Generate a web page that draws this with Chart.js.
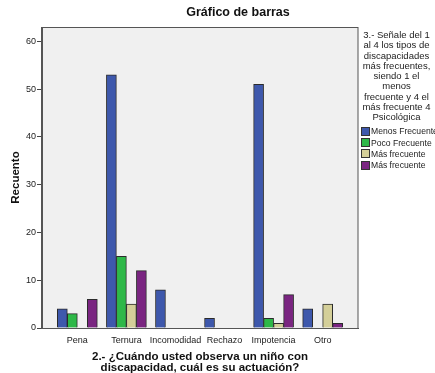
<!DOCTYPE html>
<html>
<head>
<meta charset="utf-8">
<script src="https://cdn.jsdelivr.net/npm/chart.js@4.4.0/dist/chart.umd.min.js"></script>
<style>
  html, body { margin: 0; padding: 0; background: #fff; }
  #wrap { position: relative; width: 435px; height: 373px; font-family: "Liberation Sans", Arial, sans-serif; }
  #legend { position: absolute; left: 358px; top: 30px; width: 77px; font-size: 9.5px; color: #222; }
  #legend .ttl { text-align: center; line-height: 10.3px; }
  #legend .item { display: flex; align-items: center; height: 11.3px; margin-left: 3px; white-space: nowrap; font-size: 8.6px; }
  #legend .sw { flex: 0 0 auto; width: 7px; height: 7px; border: 1px solid #333; margin-right: 1px; }
</style>
</head>
<body>
<div id="wrap">
  <canvas id="barChart" width="435" height="373"></canvas>
  <div id="legend"></div>
</div>
<script>
// Chart data
const chartTitle = 'Gráfico de barras';
const categories = ['Pena', 'Ternura', 'Incomodidad', 'Rechazo', 'Impotencia', 'Otro'];
const seriesNames = ['Menos Frecuente', 'Poco Frecuente', 'Más frecuente', 'Más frecuente'];
const menosFrecuente = [4, 53, 8, 2, 51, 4];
const pocoFrecuente = [3, 15, 0, 0, 2, 0];
const masFrecuente = [0, 5, 0, 0, 1, 5];
const masFrecuente4 = [6, 12, 0, 0, 7, 1];
const yTicks = [0, 10, 20, 30, 40, 50, 60];
const legendTitle = ['3.- Señale del 1', 'al 4 los tipos de', 'discapacidades', 'más frecuentes,', 'siendo 1 el', 'menos', 'frecuente y 4 el', 'más frecuente 4', 'Psicológica'];
const xTitle = ['2.- ¿Cuándo usted observa un niño con', 'discapacidad, cuál es su actuación?'];
const yTitle = 'Recuento';

const colors = ['#3E58AC', '#2EB848', '#D4CF99', '#7A2581'];
const FONT = '"Liberation Sans", Arial, sans-serif';

// build datasets on a linear x scale so the plot frame can have side padding
function toPoints(values) {
  return values.map((v, i) => ({ x: i, y: v === 0 ? null : v }));
}
const allSeries = [menosFrecuente, pocoFrecuente, masFrecuente, masFrecuente4];
const datasets = allSeries.map((vals, i) => ({
  label: seriesNames[i],
  data: toPoints(vals),
  backgroundColor: colors[i],
  borderColor: '#2b2b2b',
  borderWidth: 1,
  borderSkipped: 'bottom',
  barThickness: 10
}));

// plot background + frame + title
const framePlugin = {
  id: 'frame',
  beforeDraw(chart) {
    const { ctx, chartArea: a } = chart;
    ctx.save();
    ctx.fillStyle = '#F0F0F0';
    ctx.fillRect(a.left, a.top, a.right - a.left, a.bottom - a.top);
    ctx.restore();
  },
  afterDraw(chart) {
    const { ctx, chartArea: a } = chart;
    ctx.save();
    ctx.strokeStyle = '#555';
    ctx.lineWidth = 1;
    ctx.strokeRect(a.left - 0.5, a.top + 0.5, a.right - a.left + 0.5, a.bottom - a.top);
    ctx.fillStyle = '#111';
    ctx.font = 'bold 12.5px ' + FONT;
    ctx.textAlign = 'center';
    ctx.textBaseline = 'middle';
    ctx.fillText(chartTitle, 238, 13);
    ctx.restore();
  }
};

const ctx = document.getElementById('barChart').getContext('2d');
new Chart(ctx, {
  type: 'bar',
  data: { datasets: datasets },
  options: {
    responsive: false,
    animation: false,
    layout: { padding: { top: 27, right: 77, left: 0, bottom: 0 } },
    plugins: {
      legend: { display: false },
      tooltip: { enabled: false }
    },
    scales: {
      x: {
        type: 'linear',
        min: -0.72,
        max: 5.72,
        offset: false,
        grid: { display: false, drawOnChartArea: false, drawTicks: true, tickLength: 5, color: '#444' },
        border: { display: true, color: '#555' },
        ticks: {
          stepSize: 1,
          includeBounds: false,
          autoSkip: false,
          maxRotation: 0,
          color: '#222',
          padding: 2,
          font: { family: FONT, size: 9 },
          callback: (v) => (Number.isInteger(v) && categories[v] !== undefined ? categories[v] : '')
        },
        title: {
          display: true,
          text: xTitle,
          color: '#111',
          font: { family: FONT, size: 11.5, weight: 'bold', lineHeight: 0.95 },
          padding: { top: 4, bottom: 0 }
        },
        afterFit: (scale) => { scale.height = 45; }
      },
      y: {
        min: 0,
        max: 63,
        grid: { drawOnChartArea: false, drawTicks: true, tickLength: 5, color: '#444' },
        border: { display: true, color: '#555' },
        afterBuildTicks: (scale) => { scale.ticks = yTicks.map(v => ({ value: v })); },
        ticks: {
          color: '#222',
          padding: 1,
          font: { family: FONT, size: 9 }
        },
        title: {
          display: true,
          text: yTitle,
          color: '#111',
          font: { family: FONT, size: 11.5, weight: 'bold' },
          padding: { top: 9, bottom: 0 }
        },
        afterFit: (scale) => { scale.width = 42; }
      }
    }
  },
  plugins: [framePlugin]
});

// legend (multi-line title + swatches)
const legendEl = document.getElementById('legend');
let html = '<div class="ttl">' + legendTitle.join('<br>') + '</div><div style="height:3px"></div>';
seriesNames.forEach((name, i) => {
  html += '<div class="item"><span class="sw" style="background:' + colors[i] + '"></span>' + name + '</div>';
});
legendEl.innerHTML = html;
</script>
</body>
</html>
